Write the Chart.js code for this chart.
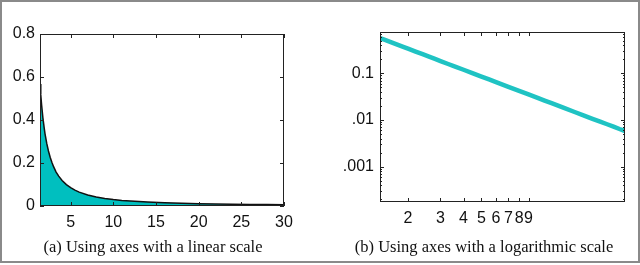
<!DOCTYPE html>
<html>
<head>
<meta charset="utf-8">
<script src="https://cdn.jsdelivr.net/npm/chart.js@4/dist/chart.umd.min.js"></script>
<style>
  html, body { margin: 0; padding: 0; background: #fff; }
  #frame { position: absolute; left: 0; top: 0; width: 636px; height: 259px; border: 2px solid #8a8a8a; }
  canvas { position: absolute; top: 0; }
  .cap { position: absolute; top: 237px; font: 16.5px "Liberation Serif", "Times New Roman", serif; color: #111; text-align: center; white-space: nowrap; line-height: 20px; }
</style>
</head>
<body>
<div id="frame"></div>
<canvas id="linChart" width="320" height="265" style="left:0"></canvas>
<canvas id="logChart" width="320" height="265" style="left:320px"></canvas>
<div class="cap" style="left:3px;width:300px">(a) Using axes with a linear scale</div>
<div class="cap" style="left:334px;width:300px">(b) Using axes with a logarithmic scale</div>
<script>
// values (same data in both panels)
const xValues = [1.41, 1.5, 1.6, 1.75, 1.9, 2, 2.2, 2.4, 2.6, 2.8, 3, 3.3, 3.6, 4, 4.5, 5, 5.5, 6, 7, 8, 9, 10, 11, 12, 14, 16, 18, 20, 22, 24, 26, 28, 30];
const yValues = [0.567, 0.517, 0.469, 0.41, 0.363, 0.336, 0.291, 0.256, 0.227, 0.203, 0.183, 0.158, 0.139, 0.119, 0.0995, 0.085, 0.0737, 0.0646, 0.0513, 0.042, 0.0352, 0.03, 0.026, 0.0229, 0.0181, 0.0148, 0.0124, 0.0106, 0.0092, 0.0081, 0.0072, 0.0064, 0.0058];

const linXTicks = [5, 10, 15, 20, 25, 30];
const linYTicks = [0, 0.2, 0.4, 0.6, 0.8];
const logXTicks = [2, 3, 4, 5, 6, 7, 8, 9];
const logYTicks = [0.001, 0.01, 0.1];
const logYLabels = ['.001', '.01', '0.1'];
const logYMinor = [0.0002, 0.0003, 0.0004, 0.0005, 0.0006, 0.0007, 0.0008, 0.0009,
  0.002, 0.003, 0.004, 0.005, 0.006, 0.007, 0.008, 0.009,
  0.02, 0.03, 0.04, 0.05, 0.06, 0.07, 0.08, 0.09, 0.2, 0.3, 0.4, 0.5, 0.6, 0.7];

const points = xValues.map((x, i) => ({ x, y: yValues[i] }));
const tickFont = { family: '"Liberation Sans", Arial, sans-serif', size: 16 };

// matlab style box with ticks pointing inwards on all four sides
const innerTicks = {
  id: 'innerTicks',
  afterDraw(chart) {
    const { ctx, chartArea: a, scales } = chart;
    ctx.save();
    ctx.strokeStyle = '#222';
    ctx.lineWidth = 1;
    ctx.strokeRect(a.left + 0.5, a.top + 0.5, a.width - 1, a.height - 1);
    ctx.beginPath();
    scales.x.ticks.forEach(t => {
      const px = Math.round(scales.x.getPixelForValue(t.value)) + 0.5;
      const len = t.minor ? 2 : 4;
      ctx.moveTo(px, a.bottom); ctx.lineTo(px, a.bottom - len);
      ctx.moveTo(px, a.top); ctx.lineTo(px, a.top + len);
    });
    scales.y.ticks.forEach(t => {
      const py = Math.round(scales.y.getPixelForValue(t.value)) + 0.5;
      const len = t.minor ? 2 : 4;
      ctx.moveTo(a.left, py); ctx.lineTo(a.left + len, py);
      ctx.moveTo(a.right, py); ctx.lineTo(a.right - len, py);
    });
    ctx.stroke();
    ctx.restore();
  }
};

function axisBase(width, height) {
  return {
    grid: { display: false, drawTicks: false },
    border: { display: false },
    afterFit: s => { if (width) s.width = width; if (height) s.height = height; }
  };
}

new Chart(document.getElementById('linChart'), {
  type: 'line',
  data: {
    datasets: [{
      data: points,
      fill: 'origin',
      backgroundColor: '#00bfbf',
      borderColor: '#111',
      borderWidth: 1.5,
      pointRadius: 0,
      tension: 0
    }]
  },
  options: {
    responsive: false,
    animation: false,
    layout: { padding: { left: 0, top: 34, right: 36, bottom: 0 } },
    plugins: { legend: { display: false }, tooltip: { enabled: false } },
    scales: {
      x: {
        ...axisBase(null, 59),
        type: 'linear', min: 1.41, max: 30,
        afterBuildTicks: s => { s.ticks = linXTicks.map(v => ({ value: v })); },
        ticks: { font: tickFont, color: '#111', padding: 7, autoSkip: false, maxRotation: 0 }
      },
      y: {
        ...axisBase(40, null),
        type: 'linear', min: 0, max: 0.8,
        afterBuildTicks: s => { s.ticks = linYTicks.map(v => ({ value: v })); },
        ticks: { font: tickFont, color: '#111', padding: 5, autoSkip: false }
      }
    }
  },
  plugins: [innerTicks]
});

new Chart(document.getElementById('logChart'), {
  type: 'line',
  data: {
    datasets: [{
      data: points,
      fill: false,
      borderColor: '#1fc3c3',
      borderWidth: 4.5,
      pointRadius: 0,
      tension: 0
    }]
  },
  options: {
    responsive: false,
    animation: false,
    layout: { padding: { left: 0, top: 32, right: 15, bottom: 0 } },
    plugins: { legend: { display: false }, tooltip: { enabled: false } },
    scales: {
      x: {
        ...axisBase(null, 63),
        type: 'logarithmic', min: 1.41, max: 30,
        afterBuildTicks: s => { s.ticks = logXTicks.map(v => ({ value: v })); },
        ticks: { font: tickFont, color: '#111', padding: 7, autoSkip: false, maxRotation: 0,
          callback: v => String(v) }
      },
      y: {
        ...axisBase(60, null),
        type: 'logarithmic', min: 0.000175, max: 0.766,
        afterBuildTicks: s => {
          s.ticks = logYTicks.map(v => ({ value: v }))
            .concat(logYMinor.map(v => ({ value: v, minor: true })));
        },
        ticks: { font: tickFont, color: '#111', padding: 6, autoSkip: false,
          callback: v => { const i = logYTicks.indexOf(v); return i >= 0 ? logYLabels[i] : ''; } }
      }
    }
  },
  plugins: [innerTicks]
});
</script>
</body>
</html>
